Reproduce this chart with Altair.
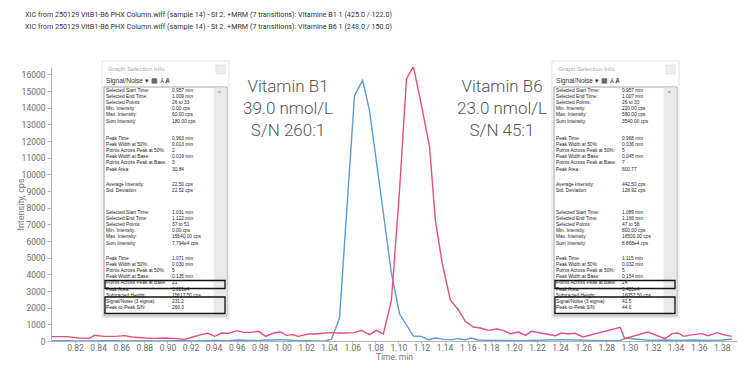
import altair as alt
import pandas as pd

# ---------------- data ----------------
title_lines = [
    "XIC from 250129 VitB1-B6 PHX Column.wiff (sample 14) - St 2. +MRM (7 transitions): Vitamine B1 1 (425.0 / 122.0)",
    "XIC from 250129 VitB1-B6 PHX Column.wiff (sample 14) - St 2. +MRM (7 transitions): Vitamine B6 1 (248.0 / 150.0)",
]

b1_time = [0.800, 0.813, 0.823, 0.832, 0.845, 0.855, 0.863, 0.881, 0.889, 0.898,
           0.908, 0.915, 0.922, 0.930, 0.941, 0.953, 0.960, 0.972, 0.979, 0.985,
           0.992, 0.998, 1.003, 1.009, 1.022, 1.028, 1.037, 1.042, 1.049, 1.062,
           1.069, 1.075, 1.094, 1.101, 1.107, 1.113, 1.120, 1.126, 1.132, 1.139,
           1.146, 1.152, 1.158, 1.163, 1.169, 1.178, 1.191, 1.204, 1.215, 1.228,
           1.241, 1.253, 1.266, 1.279, 1.292, 1.297, 1.305, 1.318, 1.331, 1.342,
           1.355, 1.368, 1.381, 1.389]
b1_int = [20, 20, 0, 0, 20, 20, 0, 20, 0, 0,
          20, 40, 0, 20, 40, 20, 60, 40, 20, 60,
          60, 80, 60, 40, 20, 0, 20, 100, 1360, 14740,
          15640, 13840, 4050, 1620, 960, 300, 280, 80, 180, 100,
          80, 140, 80, 180, 60, 40, 40, 20, 40, 60,
          80, 60, 40, 20, 40, 180, 120, 40, 60, 40,
          60, 40, 60, 120]

b6_time = [0.800, 0.813, 0.823, 0.832, 0.837, 0.845, 0.855, 0.863, 0.869, 0.881,
           0.889, 0.898, 0.908, 0.915, 0.922, 0.930, 0.935, 0.941, 0.947, 0.953,
           0.960, 0.966, 0.972, 0.979, 0.985, 0.992, 0.998, 1.003, 1.009, 1.013,
           1.022, 1.028, 1.037, 1.042, 1.048, 1.055, 1.062, 1.068, 1.075, 1.081,
           1.087, 1.094, 1.101, 1.107, 1.113, 1.120, 1.127, 1.132, 1.138, 1.145,
           1.152, 1.158, 1.165, 1.171, 1.178, 1.185, 1.191, 1.197, 1.204, 1.210,
           1.215, 1.223, 1.228, 1.236, 1.241, 1.247, 1.253, 1.260, 1.292, 1.296,
           1.316, 1.331, 1.337, 1.342, 1.347, 1.355, 1.363, 1.368, 1.376, 1.381,
           1.389]
b6_int = [260, 260, 180, 160, 340, 280, 280, 320, 240, 180,
          160, 180, 140, 100, 240, 400, 460, 280, 480, 460,
          620, 520, 520, 580, 280, 480, 540, 340, 380, 280,
          420, 420, 480, 500, 480, 480, 500, 640, 380, 640,
          420, 2460, 9040, 15730, 16470, 14140, 11640, 7250, 4650, 2460,
          1860, 1170, 840, 780, 640, 720, 640, 440, 540, 340,
          580, 480, 420, 320, 480, 420, 460, 240, 820, 140,
          540, 140, 440, 480, 280, 380, 440, 320, 500, 380,
          280]

series_names = ["Vitamine B1", "Vitamine B6"]
series_colors = ["#5b9bd5", "#e4507c"]

x_ticks = [0.82, 0.84, 0.86, 0.88, 0.90, 0.92, 0.94, 0.96, 0.98, 1.00, 1.02, 1.04,
           1.06, 1.08, 1.10, 1.12, 1.14, 1.16, 1.18, 1.20, 1.22, 1.24, 1.26, 1.28,
           1.30, 1.32, 1.34, 1.36, 1.38]
y_ticks = list(range(0, 16001, 1000))

b1_note = ["Vitamin B1", "39.0 nmol/L", "S/N 260:1"]
b6_note = ["Vitamin B6", "23.0 nmol/L", "S/N 45:1"]

left_top = [("Selected Start Time:", "0.957 min"), ("Selected End Time:", "1.009 min"),
            ("Selected Points:", "26 to 33"), ("Min. Intensity:", "0.00 cps"),
            ("Max. Intensity:", "60.00 cps"), ("Sum Intensity:", "180.00 cps")]
left_peak = [("Peak Time:", "0.963 min"), ("Peak Width at 50%:", "0.013 min"),
             ("Points Across Peak at 50%:", "2"), ("Peak Width at Base:", "0.019 min"),
             ("Points Across Peak at Base:", "3"), ("Peak Area:", "30.84")]
left_avg = [("Average Intensity:", "22.50 cps"), ("Std. Deviation:", "22.52 cps")]
left_sel2 = [("Selected Start Time:", "1.031 min"), ("Selected End Time:", "1.122 min"),
             ("Selected Points:", "37 to 51"), ("Min. Intensity:", "0.00 cps"),
             ("Max. Intensity:", "15640.00 cps"), ("Sum Intensity:", "7.794e4 cps")]
left_peak2 = [("Peak Time:", "1.071 min"), ("Peak Width at 50%:", "0.030 min"),
              ("Points Across Peak at 50%:", "5"), ("Peak Width at Base:", "0.135 min"),
              ("Points Across Peak at Base:", "21"), ("Peak Area:", "3.021e4"),
              ("Subtracted Height:", "15617.50 cps"), ("Signal/Noise (3 sigma):", "231.2"),
              ("Peak-to-Peak S/N:", "260.3")]

right_top = [("Selected Start Time:", "0.957 min"), ("Selected End Time:", "1.007 min"),
             ("Selected Points:", "26 to 33"), ("Min. Intensity:", "220.00 cps"),
             ("Max. Intensity:", "580.00 cps"), ("Sum Intensity:", "3540.00 cps")]
right_peak = [("Peak Time:", "0.968 min"), ("Peak Width at 50%:", "0.036 min"),
              ("Points Across Peak at 50%:", "5"), ("Peak Width at Base:", "0.045 min"),
              ("Points Across Peak at Base:", "7"), ("Peak Area:", "600.77")]
right_avg = [("Average Intensity:", "442.50 cps"), ("Std. Deviation:", "128.92 cps")]
right_sel2 = [("Selected Start Time:", "1.089 min"), ("Selected End Time:", "1.166 min"),
              ("Selected Points:", "47 to 58"), ("Min. Intensity:", "800.00 cps"),
              ("Max. Intensity:", "16500.00 cps"), ("Sum Intensity:", "8.868e4 cps")]
right_peak2 = [("Peak Time:", "1.115 min"), ("Peak Width at 50%:", "0.032 min"),
               ("Points Across Peak at 50%:", "5"), ("Peak Width at Base:", "0.154 min"),
               ("Points Across Peak at Base:", "24"), ("Peak Area:", "3.421e4"),
               ("Subtracted Height:", "16057.50 cps"), ("Signal/Noise (3 sigma):", "41.5"),
               ("Peak-to-Peak S/N:", "44.6")]

# ---------------- layout (page px -> plot px) ----------------
OX, OY = 51, 67          # page position of plot origin
W, H = 686, 274
FONT = "Roboto"
UI_FONT = "Liberation Sans"

def P(x, y):
    return x - OX, y - OY

# ---------------- chromatogram ----------------
df = pd.concat([
    pd.DataFrame({"t": b1_time, "i": b1_int, "s": series_names[0]}),
    pd.DataFrame({"t": b6_time, "i": b6_int, "s": series_names[1]}),
])

xscale = alt.Scale(domain=[0.7992, 1.3932], nice=False, zero=False)
yscale = alt.Scale(domain=[0, 16440], nice=False)

lines = alt.Chart(df).mark_line(strokeWidth=1.4, clip=True).encode(
    x=alt.X("t:Q", scale=xscale,
            axis=alt.Axis(values=x_ticks, format=".2f", title="Time, min", grid=False,
                          titleY=15, titleBaseline="middle", titleFontSize=8.5,
                          tickSize=2, labelPadding=0, labelFlush=False)),
    y=alt.Y("i:Q", scale=yscale,
            axis=alt.Axis(values=y_ticks, format="d", title="Intensity, cps", grid=False,
                          tickSize=4, labelPadding=2, titleX=-31, titleY=H / 2,
                          titleAngle=270, titleAlign="center", titleBaseline="middle")),
    color=alt.Color("s:N", scale=alt.Scale(domain=series_names, range=series_colors), legend=None),
    detail="s:N",
    order="t:Q",
)

# ---------------- title lines ----------------
tdf = pd.DataFrame({"txt": title_lines,
                    "x": [P(25, 0)[0]] * 2,
                    "y": [P(0, 15)[1], P(0, 27)[1]]})
titles = alt.Chart(tdf).mark_text(align="left", baseline="middle", fontSize=7.2,
                                   font=FONT, color="#333333").encode(
    x=alt.X("x:Q", scale=None), y=alt.Y("y:Q", scale=None), text="txt:N")

# ---------------- vitamin notes ----------------
ndf = pd.DataFrame({
    "txt": b1_note + b6_note,
    "x": [P(288, 0)[0]] * 3 + [P(502, 0)[0]] * 3,
    "y": [P(0, 87)[1], P(0, 109)[1], P(0, 131)[1]] * 2,
})
notes = alt.Chart(ndf).mark_text(align="center", baseline="middle", fontSize=17,
                                 font=FONT, fontWeight=300, color="#555555").encode(
    x=alt.X("x:Q", scale=None), y=alt.Y("y:Q", scale=None), text="txt:N")

# ---------------- info panels ----------------
def panel(dx, blocks):
    rects, outlines, texts = [], [], []
    rects.append(dict(x=102 + dx, x2=229 + dx, y=61, y2=318, fill="#ffffff", stroke="#dcdcdc"))
    rects.append(dict(x=216 + dx, x2=225 + dx, y=65, y2=74, fill="#eeeeee", stroke="#e0e0e0"))
    rects.append(dict(x=104 + dx, x2=227 + dx, y=87, y2=316, fill="#ffffff", stroke="#8c8c8c"))
    rects.append(dict(x=214 + dx, x2=226 + dx, y=88, y2=315, fill="#e9e9e9", stroke="#e9e9e9"))
    outlines.append(dict(x=105 + dx, x2=225 + dx, y=280.5, y2=288.5))
    outlines.append(dict(x=105 + dx, x2=225 + dx, y=297, y2=313.5))
    texts.append(dict(txt="Graph Selection Info", x=108 + dx, y=69, c="#a8a8a8", fs=6.2))
    texts.append(dict(txt="Signal/Noise ▾ ▦ ⅄ Ⱥ", x=106 + dx, y=81, c="#333333", fs=6.6))
    texts.append(dict(txt="^", x=218 + dx, y=93, c="#555555", fs=6))
    for start, rows in blocks:
        for k, (lab, val) in enumerate(rows):
            yy = start + k * 6.1
            texts.append(dict(txt=lab, x=106 + dx, y=yy, c="#222222", fs=4.8))
            texts.append(dict(txt=val, x=172 + dx, y=yy, c="#222222", fs=4.8))
    return rects, outlines, texts

R, O, T = [], [], []
for dx, blocks in [
    (0, [(91, left_top), (139, left_peak), (185, left_avg), (213, left_sel2), (259, left_peak2)]),
    (450, [(91, right_top), (139, right_peak), (185, right_avg), (213, right_sel2), (259, right_peak2)]),
]:
    r, o, t = panel(dx, blocks)
    R += r; O += o; T += t

def shift_rect(d):
    d = dict(d)
    d["x"] -= OX; d["x2"] -= OX; d["y"] -= OY; d["y2"] -= OY
    return d

rdf = pd.DataFrame([shift_rect(d) for d in R])
odf = pd.DataFrame([shift_rect(d) for d in O])
txdf = pd.DataFrame(T)
txdf["x"] = txdf["x"] - OX
txdf["y"] = txdf["y"] - OY

panel_rects = alt.Chart(rdf).mark_rect(strokeWidth=0.8).encode(
    x=alt.X("x:Q", scale=None), x2="x2:Q",
    y=alt.Y("y:Q", scale=None), y2="y2:Q",
    fill=alt.Fill("fill:N", scale=None),
    stroke=alt.Stroke("stroke:N", scale=None),
)
panel_boxes = alt.Chart(odf).mark_rect(fill=None, fillOpacity=0, stroke="#111111",
                                       strokeWidth=1.3).encode(
    x=alt.X("x:Q", scale=None), x2="x2:Q",
    y=alt.Y("y:Q", scale=None), y2="y2:Q",
)
panel_text = alt.Chart(txdf).mark_text(align="left", baseline="middle", font=UI_FONT).encode(
    x=alt.X("x:Q", scale=None), y=alt.Y("y:Q", scale=None), text="txt:N",
    color=alt.Color("c:N", scale=None), size=alt.Size("fs:Q", scale=None),
)

chart = alt.layer(lines, panel_rects, panel_boxes, panel_text, notes, titles).properties(
    width=W, height=H,
    autosize=alt.AutoSizeParams(type="none"),
    padding={"left": 43, "top": 59, "right": 5, "bottom": 19},
).configure_view(stroke=None).configure_axis(
    labelFont=FONT, titleFont=FONT, labelFontSize=8.5, titleFontSize=9,
    labelColor="#6b6b6b", titleColor="#777777", titleFontWeight="normal",
    domainColor="#b5b5b5", tickColor="#b5b5b5", domainWidth=1,
)

chart.save("out.html", embed_options={"renderer": "svg", "actions": False})
